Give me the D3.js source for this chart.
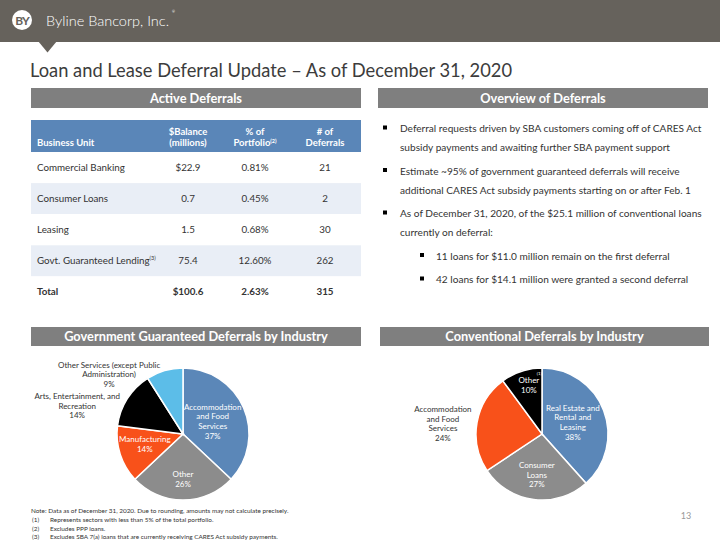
<!DOCTYPE html>
<html><head><meta charset="utf-8">
<script src="https://cdn.jsdelivr.net/npm/d3@7"></script>
<style>
body{margin:0;background:#fff}
svg{display:block;font-family:Lato,"Open Sans",sans-serif}
</style>
</head><body>
<svg id="c" width="720" height="540"></svg>
<script>
// ---------- data ----------
const company = "Byline Bancorp, Inc.";
const title = "Loan and Lease Deferral Update – As of December 31, 2020";
const sectionTitles = ["Active Deferrals", "Overview of Deferrals", "Government Guaranteed Deferrals by Industry", "Conventional Deferrals by Industry"];

const tableHeaders = [["Business Unit"], ["$Balance", "(millions)"], ["% of", "Portfolio"], ["# of", "Deferrals"]];
const headerNotes = ["", "", "(2)", ""];
const units = ["Commercial Banking", "Consumer Loans", "Leasing", "Govt. Guaranteed Lending", "Total"];
const unitNotes = ["", "", "", "(3)", ""];
const balances = ["$22.9", "0.7", "1.5", "75.4", "$100.6"];
const pctPortfolio = ["0.81%", "0.45%", "0.68%", "12.60%", "2.63%"];
const numDeferrals = [21, 2, 30, 262, 315];

const bullets = [
  {level: 1, lines: ["Deferral requests driven by SBA customers coming off of CARES Act", "subsidy payments and awaiting further SBA payment support"]},
  {level: 1, lines: ["Estimate ~95% of government guaranteed deferrals will receive", "additional CARES Act subsidy payments starting on or after Feb. 1"]},
  {level: 1, lines: ["As of December 31, 2020, of the $25.1 million of conventional loans", "currently on deferral:"]},
  {level: 2, lines: ["11 loans for $11.0 million remain on the first deferral"]},
  {level: 2, lines: ["42 loans for $14.1 million were granted a second deferral"]}
];

const govCategories = [["Accommodation", "and Food", "Services"], ["Other"], ["Manufacturing"], ["Arts, Entertainment, and", "Recreation"], ["Other Services (except Public", "Administration)"]];
const govValues = [37, 26, 14, 14, 9];
const convCategories = [["Real Estate and", "Rental and", "Leasing"], ["Consumer", "Loans"], ["Accommodation", "and Food", "Services"], ["Other"]];
const convNotes = ["", "", "", "(1)"];
const convValues = [38, 27, 24, 10];

const footNote = "Note: Data as of December 31, 2020. Due to rounding, amounts may not calculate precisely.";
const footMarks = ["(1)", "(2)", "(3)"];
const footTexts = ["Represents sectors with less than 5% of the total portfolio.", "Excludes PPP loans.", "Excludes SBA 7(a) loans that are currently receiving CARES Act subsidy payments."];
const pageNumber = "13";

// ---------- styles / layout ----------
const C = {
  header: "#66625c", bar: "#7f7f7f", tableHead: "#5a86b8", rowAlt: "#e9eef6",
  text: "#333333", blue: "#5b87b8", gray: "#8c8c8c", orange: "#f8511a", black: "#000000", light: "#5cbde8"
};
const svg = d3.select("#c");

// header band
svg.append("rect").attr("x", 0).attr("y", 0).attr("width", 720).attr("height", 42).attr("fill", C.header);
svg.append("path").attr("d", d3.line()([[38, 41], [57, 41], [47.5, 52.5]])).attr("fill", C.header);
svg.append("circle").attr("cx", 22).attr("cy", 20).attr("r", 10).attr("fill", "#fff");
svg.append("text").attr("x", 22).attr("y", 24.5).attr("text-anchor", "middle")
  .attr("font-size", 12).attr("font-weight", 700).attr("fill", C.header).attr("letter-spacing", -1).text("BY");
svg.append("text").attr("x", 46).attr("y", 26).attr("font-size", 14.5).attr("font-weight", 300).attr("fill", "#fff")
  .text(company);
svg.append("text").attr("x", 172).attr("y", 13).attr("font-size", 3.5).attr("fill", "#fff").text("®");

// title
svg.append("text").attr("x", 30).attr("y", 77).attr("font-size", 19.5).attr("fill", "#3c3c3c")
  .attr("textLength", 482).attr("lengthAdjust", "spacingAndGlyphs").text(title);

// section bars
const bars = [
  {x: 31, y: 88, w: 330, h: 20},
  {x: 378, y: 88, w: 330, h: 20},
  {x: 31, y: 327, w: 330, h: 19},
  {x: 380, y: 327, w: 329, h: 19}
];
bars.forEach((b, i) => {
  svg.append("rect").attr("x", b.x).attr("y", b.y).attr("width", b.w).attr("height", b.h).attr("fill", C.bar);
  svg.append("text").attr("x", b.x + b.w / 2).attr("y", b.y + b.h / 2 + 4.5).attr("text-anchor", "middle")
    .attr("font-size", 12.8).attr("font-weight", 700).attr("fill", "#fff").text(sectionTitles[i]);
});

// ---------- table ----------
const tableX0 = 31, tableX1 = 361;
const rowScale = d3.scaleBand().domain(units).range([152, 307.5]);
const colX = [37, 188, 255, 325];
svg.append("rect").attr("x", tableX0).attr("y", 120).attr("width", tableX1 - tableX0).attr("height", 32).attr("fill", C.tableHead);
tableHeaders.forEach((lines, j) => {
  const t = svg.append("text").attr("x", colX[j]).attr("text-anchor", j === 0 ? "start" : "middle")
    .attr("font-size", 9.5).attr("font-weight", 700).attr("fill", "#fff");
  const y0 = lines.length === 1 ? 146 : 134.5;
  lines.forEach((l, k) => {
    t.append("tspan").attr("x", colX[j]).attr("y", y0 + k * 11.5).text(l);
    if (k === lines.length - 1 && headerNotes[j]) {
      t.append("tspan").attr("font-size", 5.5).attr("dy", -3).text(headerNotes[j]);
    }
  });
});
units.forEach((u, i) => {
  const y = rowScale(u), h = rowScale.bandwidth();
  svg.append("rect").attr("x", tableX0).attr("y", y).attr("width", tableX1 - tableX0).attr("height", h)
    .attr("fill", i % 2 === 1 ? C.rowAlt : "#fff");
  const bold = i === units.length - 1 ? 700 : 400;
  const cy = y + h / 2 + 3.5;
  const t = svg.append("text").attr("x", colX[0]).attr("y", cy).attr("font-size", 9.8).attr("font-weight", bold).attr("fill", C.text).text(u);
  if (unitNotes[i]) t.append("tspan").attr("font-size", 5.5).attr("dy", -4).text(unitNotes[i]);
  [balances[i], pctPortfolio[i], String(numDeferrals[i])].forEach((v, j) => {
    svg.append("text").attr("x", colX[j + 1]).attr("y", cy).attr("text-anchor", "middle")
      .attr("font-size", 9.8).attr("font-weight", bold).attr("fill", C.text).text(v);
  });
});

// ---------- bullets ----------
let by = 132;
bullets.forEach(b => {
  const bx = b.level === 1 ? 385 : 422;
  const tx = b.level === 1 ? 400 : 436;
  svg.append("rect").attr("x", bx - 2).attr("y", by - 6.5).attr("width", 4).attr("height", 4).attr("fill", "#000");
  b.lines.forEach((l, k) => {
    svg.append("text").attr("x", tx).attr("y", by + k * 19).attr("font-size", 10.1).attr("fill", C.text).text(l);
  });
  by += b.lines.length * 19 + 4.5;
});

// ---------- pies ----------
function drawPie(cx, cy, r, values, cats, colors, labelCfg, notes) {
  const g = svg.append("g").attr("transform", `translate(${cx},${cy})`);
  const pie = d3.pie().sort(null).value(d => d)(values);
  const arc = d3.arc().innerRadius(0).outerRadius(r);
  g.selectAll("path").data(pie).join("path").attr("d", arc)
    .attr("fill", (d, i) => colors[i]).attr("stroke", "#fff").attr("stroke-width", 1.5);
  pie.forEach((d, i) => {
    const cfg = labelCfg[i];
    const ang = cfg.angle !== undefined ? cfg.angle * Math.PI / 180 : (d.startAngle + d.endAngle) / 2;
    const lr = cfg.rf * r;
    const x = lr * Math.sin(ang), y = -lr * Math.cos(ang);
    const lines = cats[i].concat([values[i] + "%"]);
    const lh = 9.7;
    const t = g.append("text").attr("text-anchor", "middle").attr("font-size", 8)
      .attr("fill", cfg.inside ? "#fff" : C.text);
    lines.forEach((l, k) => {
      t.append("tspan").attr("x", x).attr("y", y + (k - (lines.length - 1) / 2) * lh + 3).text(l);
    });
    if (notes && notes[i]) {
      g.append("text").attr("x", x + 8).attr("y", y - lh / 2 - 5).attr("font-size", 4.5).attr("fill", "#fff").text(notes[i]);
    }
  });
}
drawPie(183, 434, 66, govValues, govCategories, [C.blue, C.gray, C.orange, C.black, C.light], [
  {inside: true, rf: 0.49}, {inside: true, rf: 0.68}, {inside: true, rf: 0.6, angle: 255},
  {inside: false, rf: 1.66, angle: 285}, {inside: false, rf: 1.44, angle: 309}
]);
drawPie(542, 434, 66, convValues, convCategories, [C.blue, C.gray, C.orange, C.black], [
  {inside: true, rf: 0.5}, {inside: true, rf: 0.62}, {inside: false, rf: 1.51, angle: 276}, {inside: true, rf: 0.77, angle: 345}
], convNotes);

// ---------- footnotes ----------
svg.append("text").attr("x", 31).attr("y", 513).attr("font-size", 6.4).attr("fill", C.text).text(footNote);
footMarks.forEach((m, i) => {
  const y = 522 + i * 8.6;
  svg.append("text").attr("x", 32).attr("y", y).attr("font-size", 6.4).attr("fill", C.text).text(m);
  svg.append("text").attr("x", 50).attr("y", y).attr("font-size", 6.4).attr("fill", C.text).text(footTexts[i]);
});
svg.append("text").attr("x", 686).attr("y", 519).attr("text-anchor", "middle").attr("font-size", 9).attr("fill", "#999").text(pageNumber);
</script>
</body></html>
